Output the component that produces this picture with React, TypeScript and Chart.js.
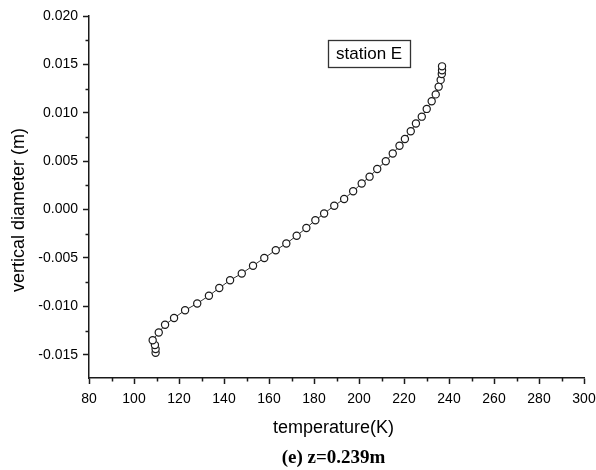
import React, { useEffect, useRef } from 'react';
import { Chart, registerables } from 'chart.js';

Chart.register(...registerables);

// ---- data ----
const temperatureK = [
  109.6, 109.6, 109.3, 108.3, 111.0, 113.8, 117.8, 122.7, 128.1, 133.3,
  137.9, 142.7, 147.9, 152.9, 157.9, 163.0, 167.7, 172.3, 176.6, 180.6,
  184.5, 189.0, 193.4, 197.4, 201.2, 204.7, 208.1, 211.9, 215.0, 218.0,
  220.4, 223.0, 225.3, 227.9, 230.1, 232.3, 234.1, 235.4, 236.3, 236.8,
  236.9, 236.9,
];
const verticalDiameterM = [
  -0.0148, -0.0144, -0.014, -0.0135, -0.0127, -0.0119, -0.0112, -0.0104, -0.0097, -0.0089,
  -0.0081, -0.0073, -0.0066, -0.0058, -0.005, -0.0042, -0.0035, -0.0027, -0.0019, -0.0011,
  -0.0004, 0.0004, 0.0011, 0.0019, 0.0027, 0.0034, 0.0042, 0.005, 0.0058, 0.0066,
  0.0073, 0.0081, 0.0089, 0.0096, 0.0104, 0.0112, 0.0119, 0.0127, 0.0134, 0.014,
  0.0144, 0.0148,
];
const xTicks = [80, 100, 120, 140, 160, 180, 200, 220, 240, 260, 280, 300];
const xMinorTicks = [90, 110, 130, 150, 170, 190, 210, 230, 250, 270, 290];
const yTicks = [-0.015, -0.01, -0.005, 0, 0.005, 0.01, 0.015, 0.02];
const yMinorTicks = [-0.0125, -0.0075, -0.0025, 0.0025, 0.0075, 0.0125, 0.0175];
const seriesLabel = 'station E';
const xTitle = 'temperature(K)';
const yTitle = 'vertical diameter (m)';
const caption = '(e) z=0.239m';

const SANS = '"Liberation Sans", Arial, sans-serif';
const SERIF = '"Liberation Serif", "Times New Roman", serif';
const AXIS = '#1a1a1a';

const decorPlugin = {
  id: 'decor',
  afterDraw(chart: any) {
    const { ctx, chartArea, scales } = chart;
    const xs = scales.x;
    const ys = scales.y;
    ctx.save();
    // minor ticks
    ctx.strokeStyle = AXIS;
    ctx.lineWidth = 1.5;
    ctx.beginPath();
    for (const v of xMinorTicks) {
      const px = Math.round(xs.getPixelForValue(v)) + 0.5;
      ctx.moveTo(px, chartArea.bottom);
      ctx.lineTo(px, chartArea.bottom + 3.5);
    }
    for (const v of yMinorTicks) {
      const py = Math.round(ys.getPixelForValue(v)) + 0.5;
      ctx.moveTo(chartArea.left, py);
      ctx.lineTo(chartArea.left - 3.5, py);
    }
    ctx.stroke();

    // axis titles
    ctx.fillStyle = '#000';
    ctx.font = `18px ${SANS}`;
    ctx.textAlign = 'center';
    ctx.textBaseline = 'middle';
    ctx.fillText(xTitle, (chartArea.left + chartArea.right) / 2 - 3, 428);
    ctx.save();
    ctx.translate(19, 210);
    ctx.rotate(-Math.PI / 2);
    ctx.fillText(yTitle, 0, 0);
    ctx.restore();

    // caption
    ctx.font = `bold 19px ${SERIF}`;
    ctx.fillText(caption, (chartArea.left + chartArea.right) / 2 - 3, 458);

    // label box
    const cx = xs.getPixelForValue(204.5);
    const cy = ys.getPixelForValue(0.0161);
    ctx.font = `17px ${SANS}`;
    const w = 82;
    const h = 27;
    ctx.fillStyle = '#fff';
    ctx.fillRect(cx - w / 2, cy - h / 2, w, h);
    ctx.strokeStyle = '#333';
    ctx.lineWidth = 1.3;
    ctx.strokeRect(Math.round(cx - w / 2) + 0.5, Math.round(cy - h / 2) + 0.5, w, h);
    ctx.fillStyle = '#000';
    ctx.fillText(seriesLabel, cx, cy + 0.5);
    ctx.restore();
  },
};

export default function App() {
  const canvasRef = useRef<HTMLCanvasElement | null>(null);

  useEffect(() => {
    if (!canvasRef.current) return;
    const points = temperatureK.map((t, i) => ({ x: t, y: verticalDiameterM[i] }));
    const tickFont = { family: SANS, size: 14 };
    const chart = new Chart(canvasRef.current, {
      type: 'scatter',
      data: {
        datasets: [
          {
            label: seriesLabel,
            data: points,
            showLine: true,
            borderColor: '#333',
            borderWidth: 1,
            pointRadius: 3.6,
            pointBorderWidth: 1.2,
            pointBorderColor: '#1a1a1a',
            pointBackgroundColor: '#ffffff',
          },
        ],
      },
      options: {
        animation: false,
        responsive: true,
        maintainAspectRatio: false,
        layout: { padding: { top: 16, right: 12, left: 0, bottom: 0 } },
        plugins: {
          legend: { display: false },
          tooltip: { enabled: false },
          title: { display: false },
        },
        scales: {
          x: {
            type: 'linear',
            min: 80,
            max: 300,
            afterBuildTicks: (s: any) => {
              s.ticks = xTicks.map((v) => ({ value: v }));
            },
            afterFit: (s: any) => {
              s.height = 92;
              s.paddingLeft = 0;
              s.paddingRight = 0;
            },
            ticks: {
              font: tickFont,
              color: '#000',
              padding: 7,
              maxRotation: 0,
              autoSkip: false,
              callback: (v: any) => String(v),
            },
            grid: {
              display: true,
              drawOnChartArea: false,
              drawTicks: true,
              tickLength: 6,
              tickColor: AXIS,
              tickWidth: 1.5,
            },
            border: { display: true, color: AXIS, width: 1.5 },
          },
          y: {
            type: 'linear',
            min: -0.0174,
            max: 0.02,
            afterBuildTicks: (s: any) => {
              s.ticks = yTicks.map((v) => ({ value: v }));
            },
            afterFit: (s: any) => {
              s.width = 89;
              s.paddingTop = 0;
              s.paddingBottom = 0;
            },
            ticks: {
              font: tickFont,
              color: '#000',
              padding: 5,
              autoSkip: false,
              callback: (v: any) => Number(v).toFixed(3),
            },
            grid: {
              display: true,
              drawOnChartArea: false,
              drawTicks: true,
              tickLength: 6,
              tickColor: AXIS,
              tickWidth: 1.5,
            },
            border: { display: true, color: AXIS, width: 1.5 },
          },
        },
      },
      plugins: [decorPlugin],
    } as any);
    return () => chart.destroy();
  }, []);

  return (
    <div
      style={{
        position: 'fixed',
        left: 0,
        top: 0,
        width: 596,
        height: 470,
        background: '#fff',
      }}
    >
      <canvas ref={canvasRef} />
    </div>
  );
}
